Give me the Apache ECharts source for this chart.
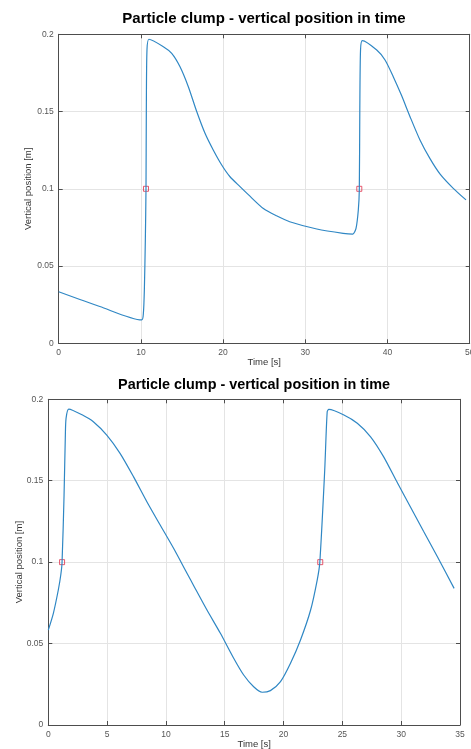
<!DOCTYPE html>
<html>
<head>
<meta charset="utf-8">
<script src="https://cdn.jsdelivr.net/npm/echarts@6/dist/echarts.min.js"></script>
<style>
  html, body { margin: 0; padding: 0; background: #fff; }
  #chart { width: 471px; height: 749px; }
</style>
</head>
<body>
<div id="chart"></div>
<script>
// upper plot: first run
const topTime = [0, 5, 10.1, 10.3, 10.42, 10.54, 10.62, 10.66, 10.74, 10.98, 12.73, 13.75, 14.76, 15.77,
  16.79, 17.8, 18.8, 19.83, 20.84, 22.06, 23.07, 24.9, 26.5, 28.1, 31.4, 34.6, 35.77, 36.17, 36.45,
  36.57, 36.63, 36.72, 36.94, 38.69, 39.7, 40.7, 41.7, 42.74, 43.95, 45.17, 46.4, 48.0, 49.55];
const topPos = [0.0334, 0.0238, 0.0151, 0.0194, 0.0345, 0.0669, 0.1, 0.15, 0.19, 0.1968, 0.192, 0.1877,
  0.179, 0.1661, 0.150, 0.1359, 0.1251, 0.1154, 0.1078, 0.1014, 0.0962, 0.0872, 0.0825, 0.0787, 0.074,
  0.0712, 0.0707, 0.0744, 0.0863, 0.0992, 0.15, 0.19, 0.1959, 0.1898, 0.1834, 0.1726, 0.1605, 0.1467,
  0.1316, 0.1195, 0.1095, 0.1003, 0.0928];
const topMarkTime = [10.62, 36.57];
const topMarkPos = [0.1, 0.1];

// lower plot: second run
const bottomTime = [0, 0.43, 0.85, 1.06, 1.17, 1.34, 1.45, 1.51, 1.74, 2.98, 3.83, 4.97, 6.1, 7.24, 8.38,
  9.51, 10.65, 11.79, 12.35, 13.49, 14.63, 15.76, 16.61, 17.46, 18.18, 18.88, 19.74, 20.59, 21.44, 22.3,
  22.86, 23.08, 23.5, 23.71, 23.85, 25.13, 26.27, 27.4, 28.5, 29.7, 30.8, 31.9, 33.08, 34.5];
const bottomPos = [0.0583, 0.0686, 0.0829, 0.0921, 0.1, 0.1412, 0.178, 0.1883, 0.194, 0.19, 0.1862, 0.178,
  0.1668, 0.1525, 0.1371, 0.1228, 0.1085, 0.0932, 0.0857, 0.0706, 0.0563, 0.041, 0.0307, 0.0235, 0.0201,
  0.0211, 0.0266, 0.0379, 0.0522, 0.0706, 0.089, 0.0997, 0.1566, 0.1924, 0.1938, 0.1904, 0.1853, 0.177,
  0.1648, 0.1484, 0.1337, 0.119, 0.1033, 0.0839];
const bottomMarkTime = [1.17, 23.12];
const bottomMarkPos = [0.1, 0.1];

const titleText = 'Particle clump - vertical position in time';
const xName = 'Time [s]';
const yName = 'Vertical position [m]';

const FONT = 'Liberation Sans, Arial, sans-serif';
const AXIS_COLOR = '#4d4d4d';
const LINE_COLOR = '#2f87c4';
const MARK_COLOR = '#e0304a';

const zip = (a, b) => a.map((v, i) => [v, b[i]]);

function xAxes(grid, max, interval, gap) {
  const base = {
    gridIndex: grid, type: 'value', min: 0, max: max, interval: interval,
    axisLine: { show: true, onZero: false, lineStyle: { color: AXIS_COLOR, width: 1 } },
    axisTick: { show: true, inside: true, length: 4, lineStyle: { color: AXIS_COLOR } }
  };
  return [
    Object.assign({}, base, {
      position: 'bottom',
      name: xName, nameLocation: 'middle', nameGap: gap, nameMoveOverlap: false,
      nameTextStyle: { fontFamily: FONT, fontSize: 9.5, color: '#333' },
      axisLabel: { fontFamily: FONT, fontSize: 8.5, color: '#555', margin: 5 },
      splitLine: { show: true, lineStyle: { color: '#e4e4e4', width: 1 } }
    }),
    Object.assign({}, base, {
      position: 'top',
      axisLabel: { show: false },
      splitLine: { show: false }
    })
  ];
}

function yAxes(grid, gap) {
  const base = {
    gridIndex: grid, type: 'value', min: 0, max: 0.2, interval: 0.05,
    axisLine: { show: true, onZero: false, lineStyle: { color: AXIS_COLOR, width: 1 } },
    axisTick: { show: true, inside: true, length: 4, lineStyle: { color: AXIS_COLOR } }
  };
  return [
    Object.assign({}, base, {
      position: 'left',
      name: yName, nameLocation: 'middle', nameGap: gap, nameMoveOverlap: false,
      nameTextStyle: { fontFamily: FONT, fontSize: 9.5, color: '#333' },
      axisLabel: { fontFamily: FONT, fontSize: 8.5, color: '#555', margin: 5 },
      splitLine: { show: true, lineStyle: { color: '#e4e4e4', width: 1 } }
    }),
    Object.assign({}, base, {
      position: 'right',
      axisLabel: { show: false },
      splitLine: { show: false }
    })
  ];
}

function curve(xi, yi, data) {
  return {
    type: 'line', xAxisIndex: xi, yAxisIndex: yi, data: data,
    showSymbol: false, smooth: 0.25, clip: true,
    lineStyle: { color: LINE_COLOR, width: 1.2 }
  };
}

function marks(xi, yi, data) {
  return {
    type: 'scatter', xAxisIndex: xi, yAxisIndex: yi, data: data,
    symbol: 'rect', symbolSize: 5,
    itemStyle: { color: 'rgba(0,0,0,0)', borderColor: MARK_COLOR, borderWidth: 1 }
  };
}

const chart = echarts.init(document.getElementById('chart'));
chart.setOption({
  animation: false,
  backgroundColor: '#fff',
  title: [
    { text: titleText, left: 264, top: 11, textAlign: 'center', padding: 0,
      textStyle: { fontFamily: FONT, fontSize: 15, fontWeight: 'bold', color: '#000' } },
    { text: titleText, left: 254, top: 378, textAlign: 'center', padding: 0,
      textStyle: { fontFamily: FONT, fontSize: 14.4, fontWeight: 'bold', color: '#000' } }
  ],
  grid: [
    { left: 58.7, top: 34.3, width: 411, height: 309, outerBoundsMode: 'none' },
    { left: 48.3, top: 399.3, width: 411.7, height: 325.7, outerBoundsMode: 'none' }
  ],
  xAxis: xAxes(0, 50, 10, 14).concat(xAxes(1, 35, 5, 14)),
  yAxis: yAxes(0, 25.5).concat(yAxes(1, 23.5)),
  series: [
    curve(0, 0, zip(topTime, topPos)),
    marks(0, 0, zip(topMarkTime, topMarkPos)),
    curve(2, 2, zip(bottomTime, bottomPos)),
    marks(2, 2, zip(bottomMarkTime, bottomMarkPos))
  ]
});
</script>
</body>
</html>
